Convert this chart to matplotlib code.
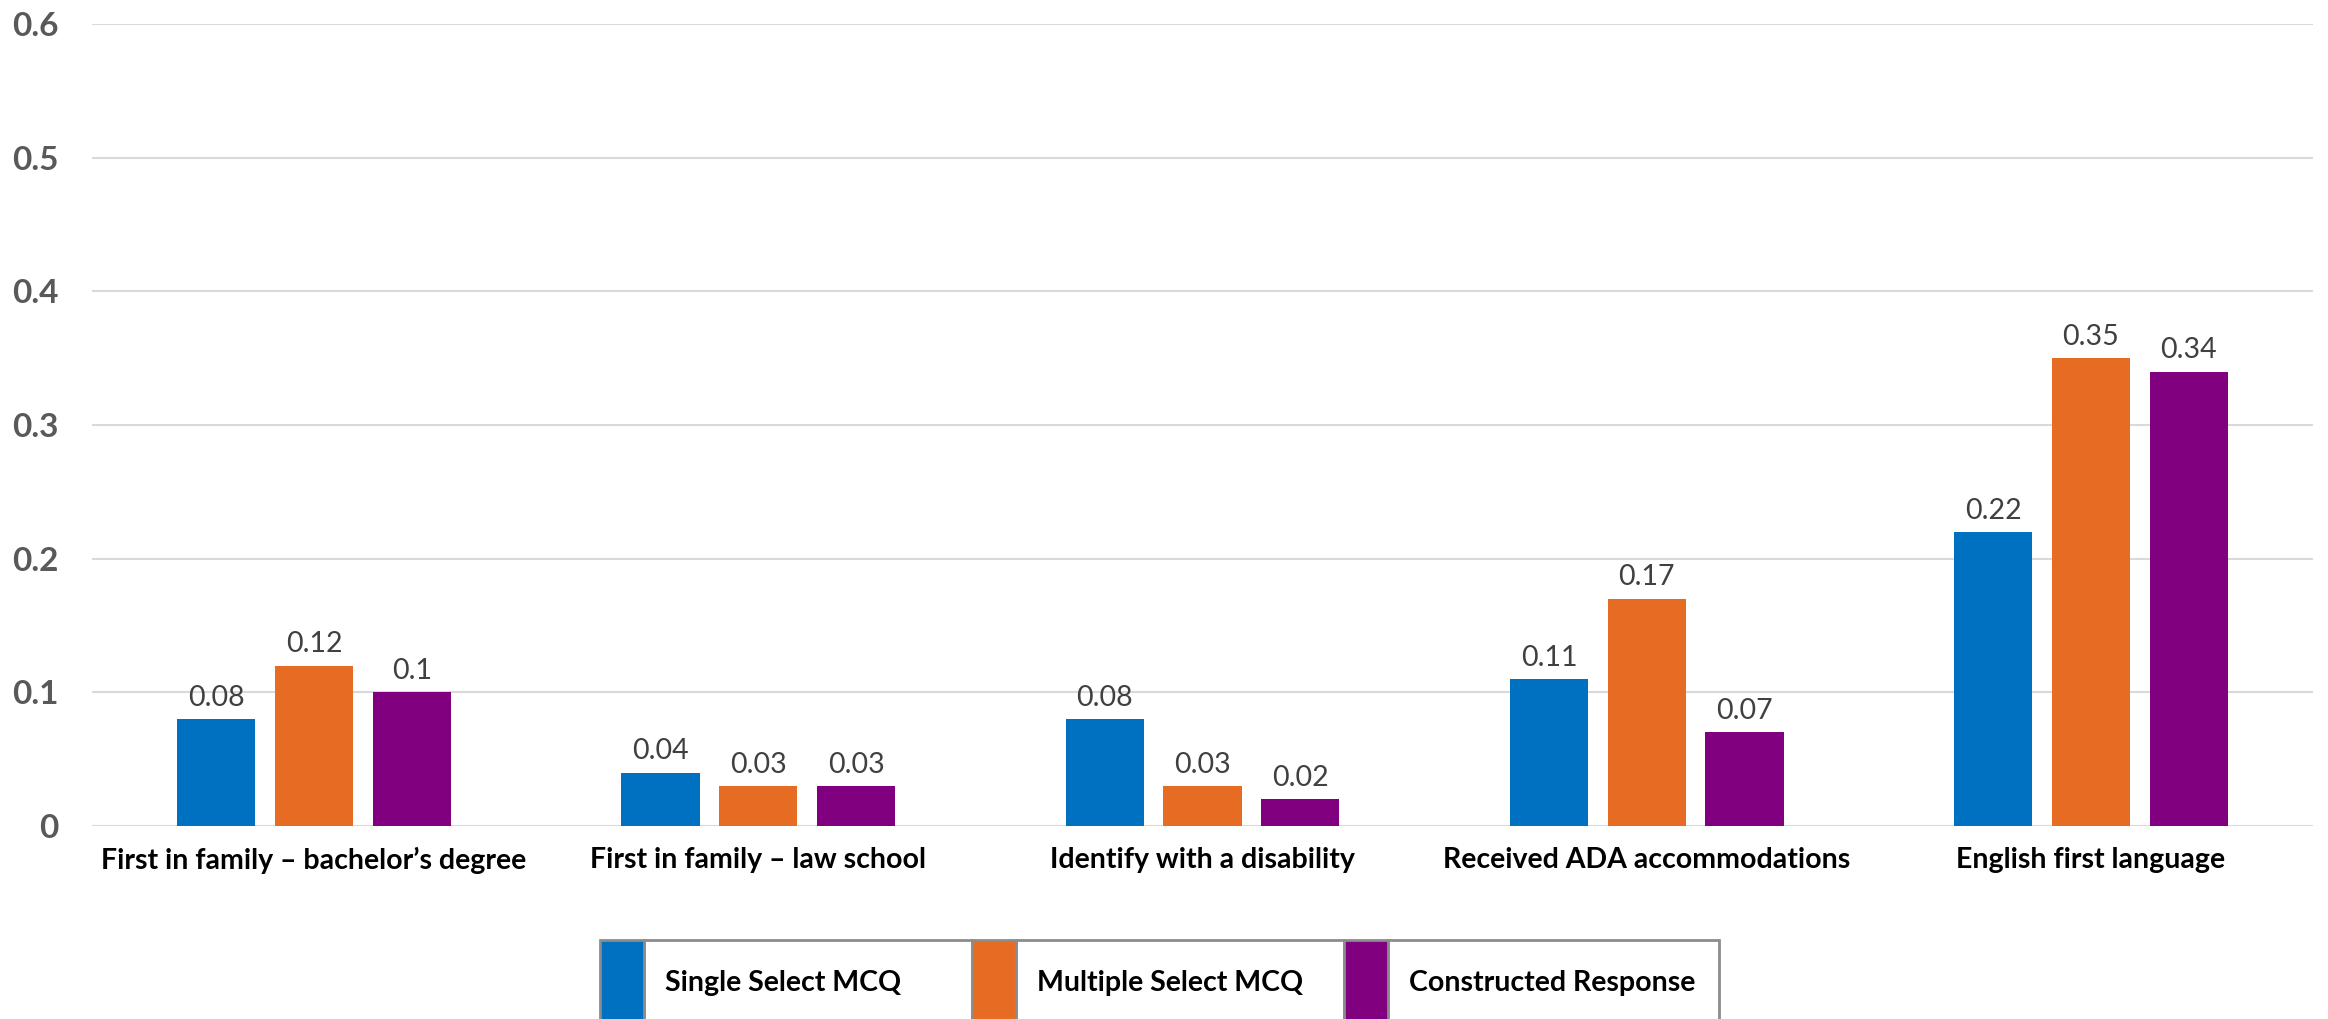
import numpy as np
import matplotlib
matplotlib.use("Agg")
import matplotlib.pyplot as plt
from matplotlib.patches import Rectangle

categories = [
    "First in family \u2013 bachelor\u2019s degree",
    "First in family \u2013 law school",
    "Identify with a disability",
    "Received ADA accommodations",
    "English first language",
]
series_names = ["Single Select MCQ", "Multiple Select MCQ", "Constructed Response"]
single_select = [0.08, 0.04, 0.08, 0.11, 0.22]
multiple_select = [0.12, 0.03, 0.03, 0.17, 0.35]
constructed = [0.10, 0.03, 0.02, 0.07, 0.34]
y_ticks = [0, 0.1, 0.2, 0.3, 0.4, 0.5, 0.6]
y_tick_labels = ["0", "0.1", "0.2", "0.3", "0.4", "0.5", "0.6"]

colors = ["#0070C0", "#E66C24", "#800080"]
W, H = 2328, 1019

fig = plt.figure(figsize=(W / 100, H / 100), dpi=100)
fig.patch.set_facecolor("white")
ax = fig.add_axes([92 / W, 1 - 826 / H, (2313 - 92) / W, (826 - 24) / H])

x = np.arange(len(categories))
bar_w = 0.176
step = 0.22
for i, (vals, c) in enumerate(zip([single_select, multiple_select, constructed], colors)):
    bars = ax.bar(x + (i - 1) * step, vals, width=bar_w, color=c, zorder=3)
    for b, v in zip(bars, vals):
        ax.annotate(f"{v:g}", (b.get_x() + b.get_width() / 2, v),
                    xytext=(0, 6), textcoords="offset points",
                    ha="center", va="bottom", fontsize=20.5,
                    family="Lato", color="#404040")

ax.set_xlim(-0.5, len(categories) - 0.5)
ax.set_ylim(0, 0.6)
ax.set_yticks(y_ticks)
ax.set_yticklabels(y_tick_labels, fontsize=24, fontweight="bold",
                   family="Lato", color="#595959")
ax.set_xticks(x)
ax.set_xticklabels(categories, fontsize=20.5, fontweight="bold",
                   family="Lato", color="black")
ax.tick_params(axis="y", length=0, pad=24)
ax.tick_params(axis="x", length=0, pad=15)
ax.grid(axis="y", color="#D9D9D9", linewidth=1.5, zorder=0)
for s in ax.spines.values():
    s.set_visible(False)

# table-like legend along the bottom edge
top = 1 - 940 / H
cell_x = [600, 972, 1344]
cell_w = [372, 372, 375]
patch_w = 44
for cx, cw, c, name in zip(cell_x, cell_w, colors, series_names):
    fig.add_artist(Rectangle(((cx + patch_w) / W, -0.05), (cw - patch_w) / W, top + 0.05,
                             transform=fig.transFigure, facecolor="white",
                             edgecolor="#8C8C8C", linewidth=2))
    fig.add_artist(Rectangle((cx / W, -0.05), patch_w / W, top + 0.05,
                             transform=fig.transFigure, facecolor=c,
                             edgecolor="#8C8C8C", linewidth=2))
    fig.text((cx + patch_w + 21) / W, 1 - 983 / H, name, ha="left", va="center",
             fontsize=20.5, fontweight="bold", family="Lato", color="black")

fig.savefig("out.png", dpi=100)
